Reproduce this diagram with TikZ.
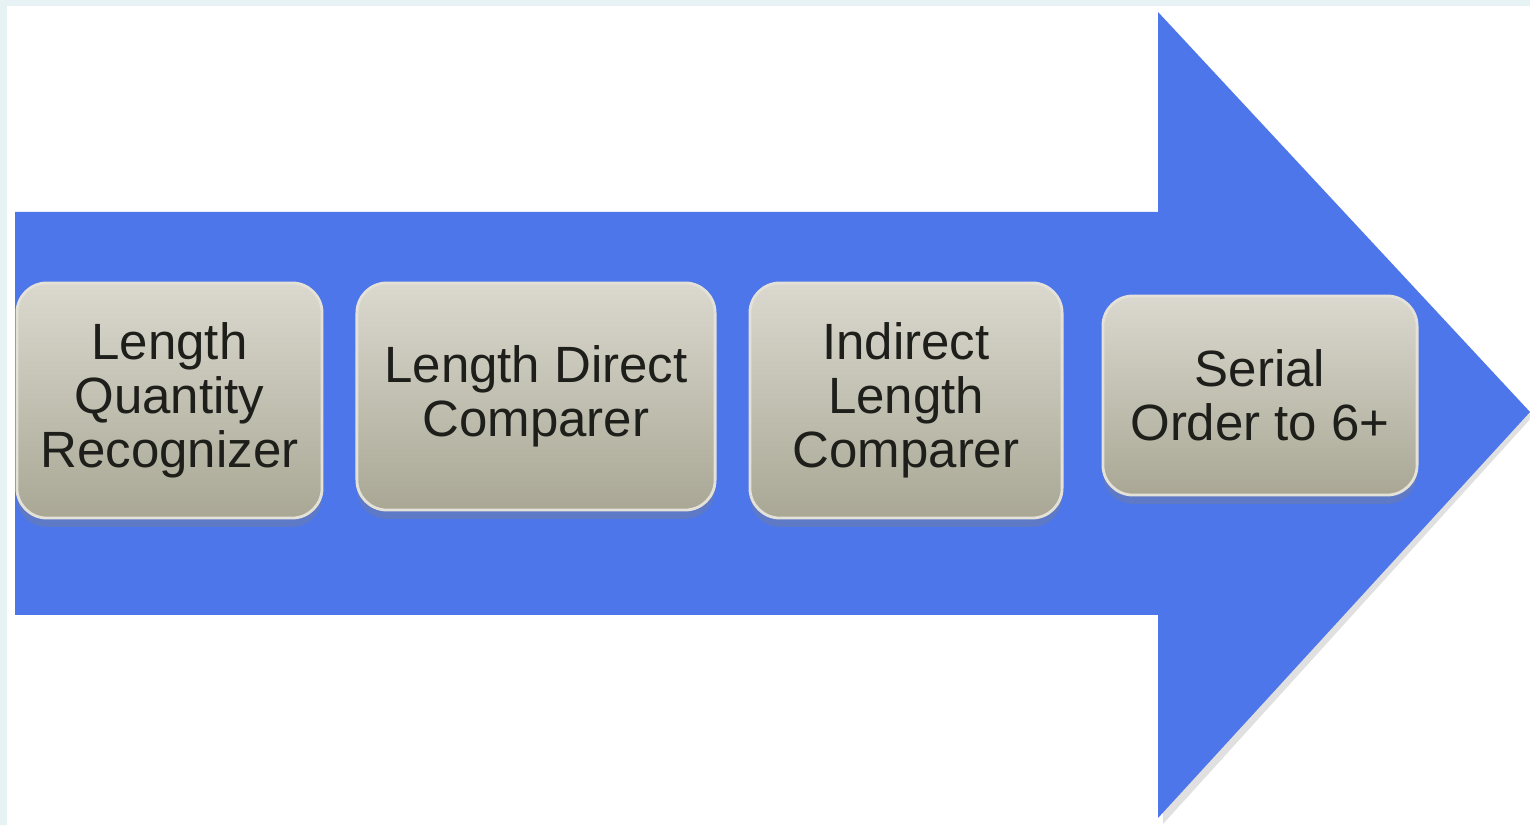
\documentclass[tikz,border=0pt]{standalone}
\usepackage{fontspec}
\setmainfont{Liberation Sans}
\usepackage{tikz}
\usetikzlibrary{positioning}
\usetikzlibrary{shadows}
\definecolor{arrowblue}{HTML}{4D76EA}
\definecolor{frameblue}{HTML}{E6F2F4}
\definecolor{boxtop}{HTML}{DBD9CF}
\definecolor{boxbottom}{HTML}{A9A794}
\definecolor{boxedge}{HTML}{E4E2D8}
\definecolor{inkgray}{HTML}{1E1E1A}
\tikzset {
  x=0.01cm, y=-0.01cm,
  % the rounded stage boxes on the arrow
  stage/.style = {draw=boxedge, line width=0.8pt, rounded corners=0.3cm,
    top color=boxtop, bottom color=boxbottom, text=inkgray,
    align=center, inner sep=0pt,
    font=\fontsize{14.5}{15.3}\selectfont,
    drop shadow={opacity=0.35, shadow xshift=0pt, shadow yshift=-2.5pt}},
  % the big arrow
  flow/.style = {fill=arrowblue},
}

\begin{document}
\begin{tikzpicture}
        \useasboundingbox (0,0) rectangle (1530,825);
        \fill[frameblue] (0,0) rectangle (1530,825);
        \fill[white] (7,6) rectangle (1530,825);

        \fill[black, opacity=0.12] (1163,18) -- (1533,416) -- (1163,824) -- cycle;
        \fill[flow] (15,212) -- (1158,212) -- (1158,12) -- (1530,412)
          -- (1158,818) -- (1158,615) -- (15,615) -- cycle;

        \node[stage, minimum width=3.05cm, minimum height=2.35cm] (recog) at (169.5,400.5)
          {Length\\Quantity\\Recognizer};
        \node[stage, minimum width=3.58cm, minimum height=2.27cm] (direct) at (536,396.5)
          {Length Direct\\Comparer};
        \node[stage, minimum width=3.12cm, minimum height=2.35cm] (indirect) at (906,400.5)
          {Indirect\\Length\\Comparer};
        \node[stage, minimum width=3.14cm, minimum height=1.99cm] (serial) at (1260,395.5)
          {Serial\\Order to 6+};
      \end{tikzpicture}
\end{document}
